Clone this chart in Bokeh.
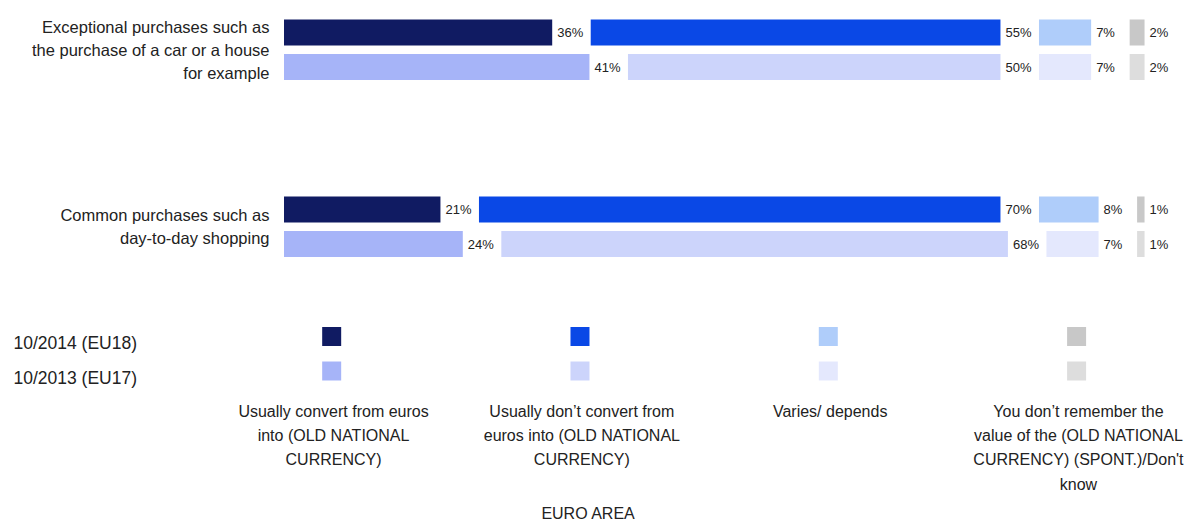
from bokeh.plotting import figure
from bokeh.models import Range1d, ColumnDataSource
from bokeh.core.properties import value
from bokeh.embed import file_html
from bokeh.resources import INLINE

# ---------------- data ----------------
items = [
    "Exceptional purchases such as\nthe purchase of a car or a house\nfor example",
    "Common purchases such as\nday-to-day shopping",
]
waves = ["10/2014 (EU18)", "10/2013 (EU17)"]
answers = [
    "Usually convert from euros\ninto (OLD NATIONAL\nCURRENCY)",
    "Usually don\u2019t convert from\neuros into (OLD NATIONAL\nCURRENCY)",
    "Varies/ depends",
    "You don\u2019t remember the\nvalue of the (OLD NATIONAL\nCURRENCY) (SPONT.)/Don't\nknow",
]
exceptional_2014 = [36, 55, 7, 2]
exceptional_2013 = [41, 50, 7, 2]
common_2014 = [21, 70, 8, 1]
common_2013 = [24, 68, 7, 1]
footer = "EURO AREA"

colors_2014 = ["#101b62", "#0a48e6", "#afcdfa", "#c8c8c8"]
colors_2013 = ["#a6b4f8", "#ccd4fb", "#e4e8fd", "#dddddd"]

FONT = "'Liberation Sans', Arial, sans-serif"
TXT = "#222222"

# ---------------- layout ----------------
GAP = 5.17          # gap between answer segments (in % units)
PX = 7.45           # pixels per percent
X0 = 283.5          # screen x of 0%
W, H = 1188, 525

def sx(px):
    return (px - X0) / PX

p = figure(width=W, height=H, output_backend="svg", toolbar_location=None,
           x_range=Range1d(sx(0), sx(W)), y_range=Range1d(H, 0),
           min_border=0, outline_line_color=None)
p.axis.visible = False
p.grid.visible = False

rows = [(0, 0, exceptional_2014, colors_2014), (0, 1, exceptional_2013, colors_2013),
        (1, 0, common_2014, colors_2014), (1, 1, common_2013, colors_2013)]

left, right, ys, cols, labs = [], [], [], [], []
for g, k, vals, cs in rows:
    y = 32 + g * 177 + k * 34.5
    acc = 0
    for i, v in enumerate(vals):
        l = acc + i * GAP
        left.append(l)
        right.append(l + v)
        ys.append(y)
        cols.append(cs[i])
        labs.append(f"{v}%")
        acc += v

src = ColumnDataSource(dict(left=left, right=right, y=ys, color=cols, lab=labs))
p.hbar(y="y", left="left", right="right", height=26, fill_color="color",
       line_color=None, source=src)
p.text(x="right", y="y", text="lab", source=src, x_offset=5,
       text_align="left", text_baseline="middle", text_font=value(FONT),
       text_font_size="13px", text_color=TXT)

# category labels
p.text(x=[0, 0], y=[32 + 17.25, 32 + 177 + 17.25], text=items, x_offset=-14.5,
       text_align="right", text_baseline="middle", text_font=value(FONT),
       text_font_size="16.5px", text_color=TXT, text_line_height=1.28)

# legend
leg_x = [6.4 + i * 33.33 for i in range(4)]
p.scatter(x=leg_x, y=[336] * 4, marker="square", size=19, fill_color=colors_2014, line_color=None)
p.scatter(x=leg_x, y=[370.5] * 4, marker="square", size=19, fill_color=colors_2013, line_color=None)
p.text(x=[sx(13)] * 2, y=[342.5, 377], text=waves, text_align="left",
       text_baseline="middle", text_font=value(FONT), text_font_size="17.5px",
       text_color=TXT)
p.text(x=[x + 0.25 for x in leg_x], y=[402] * 4, text=answers, text_align="center",
       text_baseline="top", text_font=value(FONT), text_font_size="16px",
       text_color=TXT, text_line_height=1.44)
p.text(x=[sx(588)], y=[513], text=[footer], text_align="center",
       text_baseline="middle", text_font=value(FONT), text_font_size="16px",
       text_color=TXT)

open("out.html", "w").write(file_html(p, INLINE))
